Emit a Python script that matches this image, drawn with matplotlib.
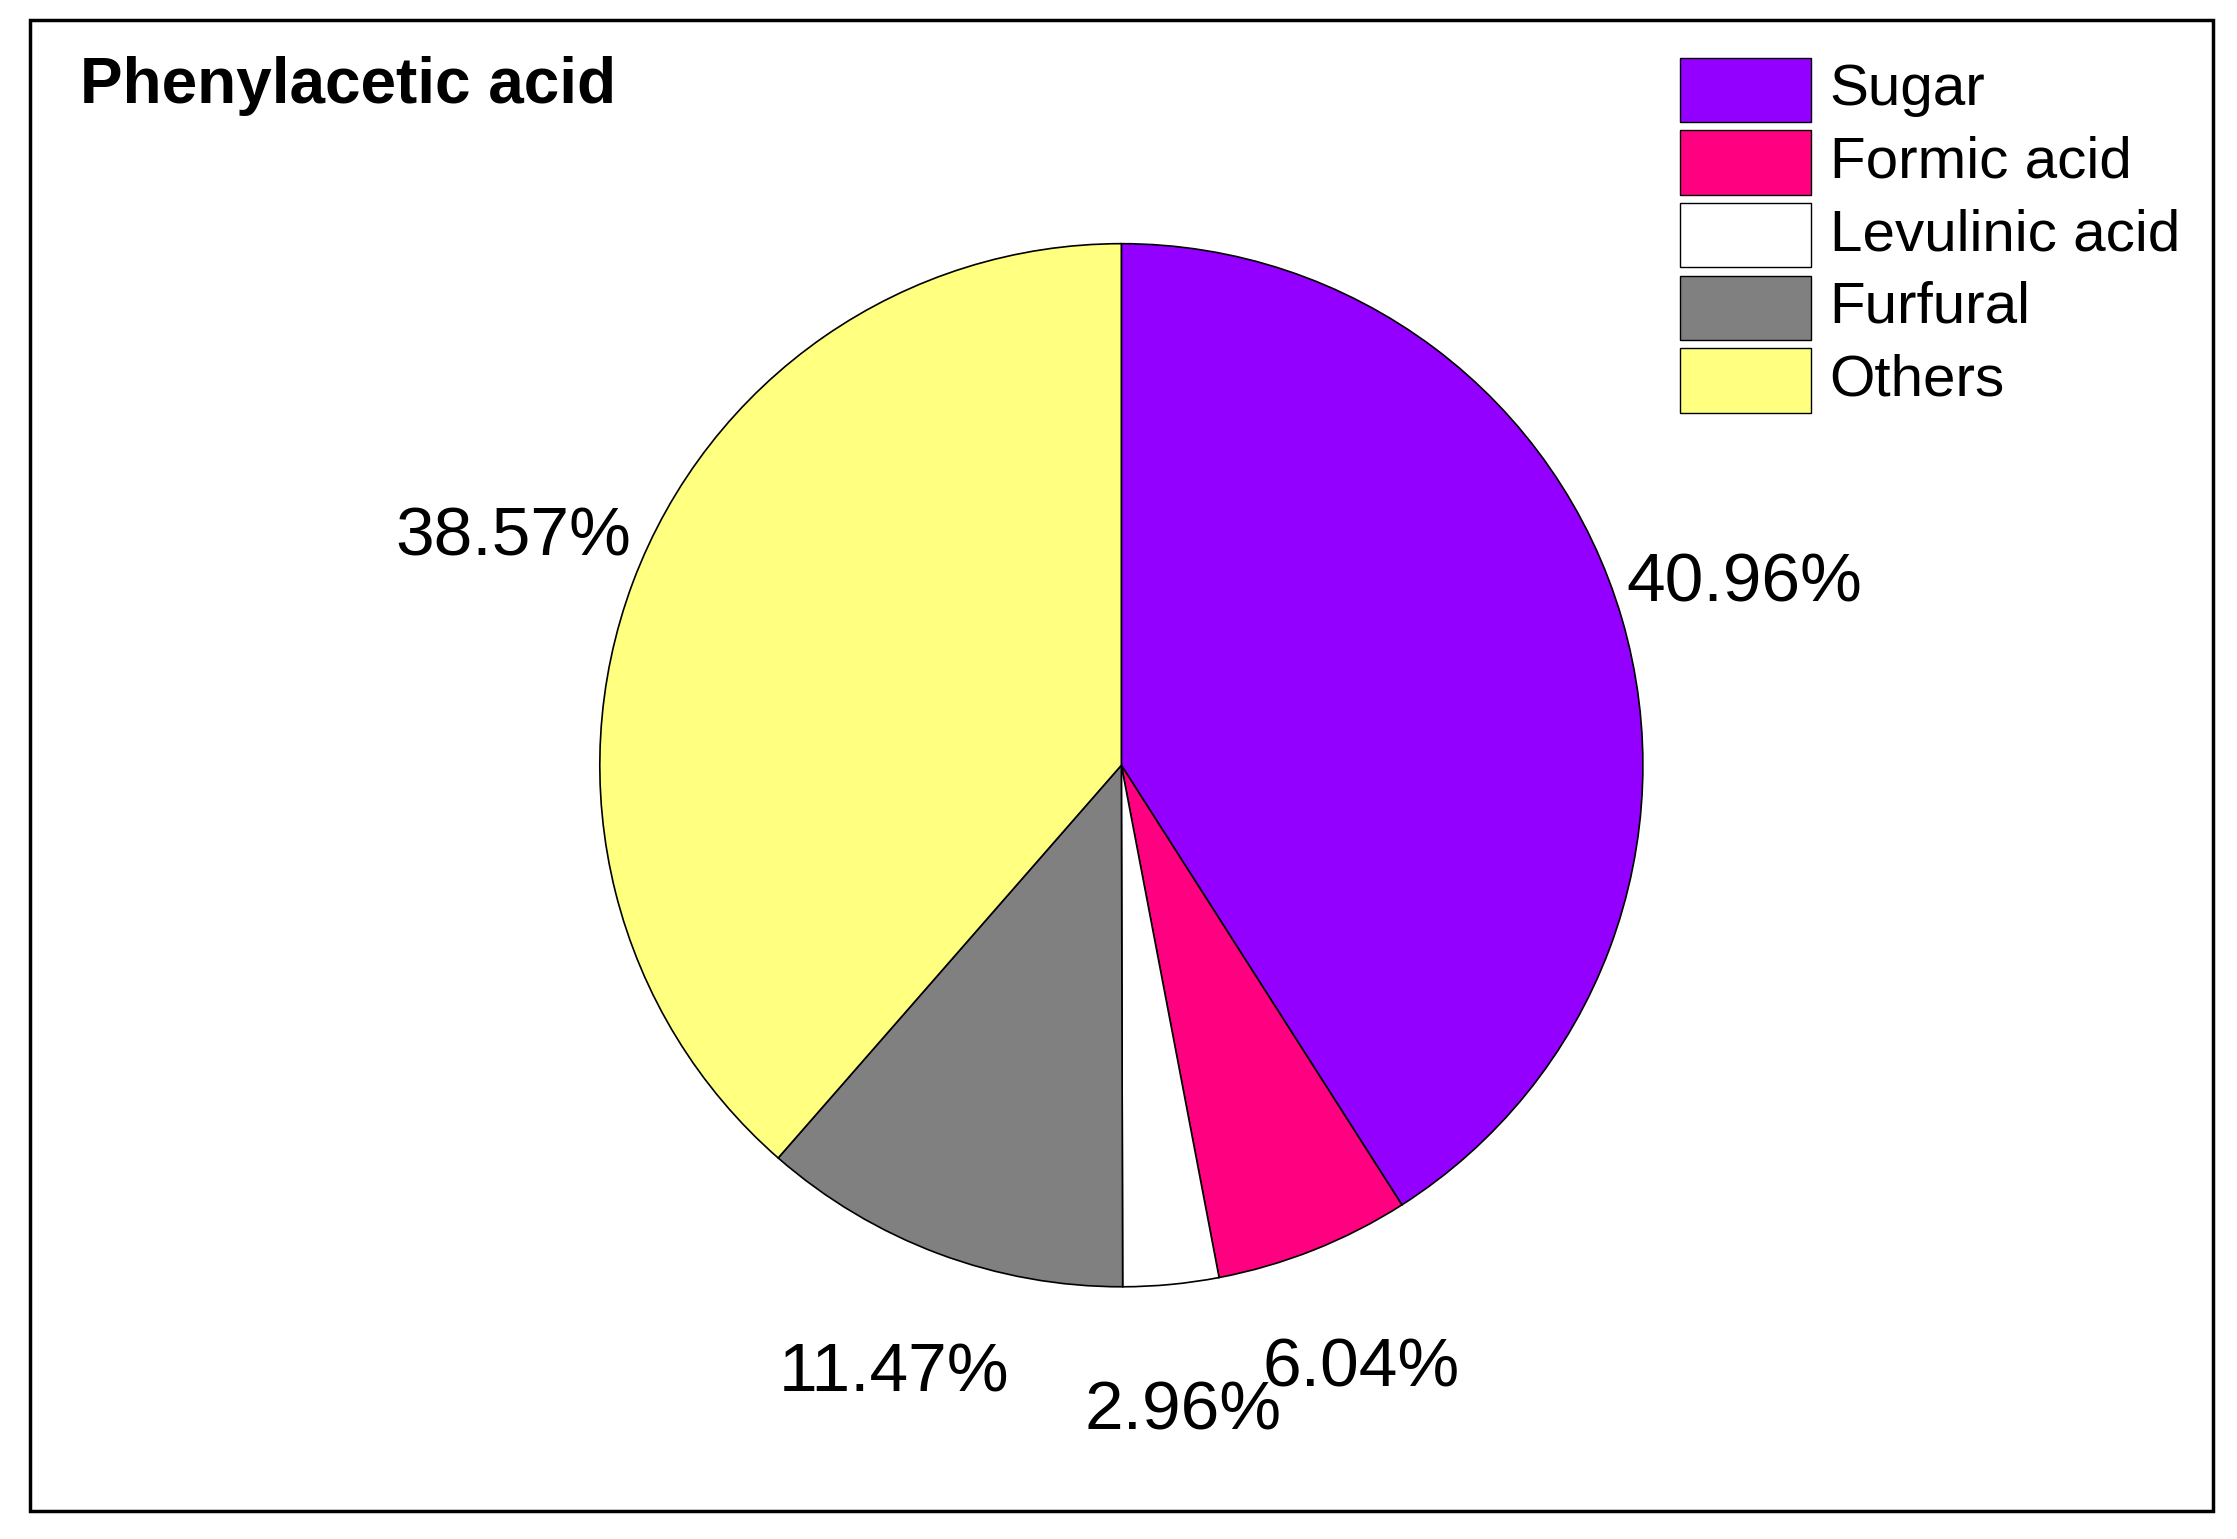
import matplotlib
matplotlib.use("Agg")
import matplotlib.pyplot as plt
from matplotlib.patches import Rectangle

plt.rcParams['font.family'] = ['Liberation Sans', 'DejaVu Sans']

categories = ["Sugar", "Formic acid", "Levulinic acid", "Furfural", "Others"]
values = [40.96, 6.04, 2.96, 11.47, 38.57]
colors = ["#9400FF", "#FF0080", "#FFFFFF", "#808080", "#FFFF80"]
title = "Phenylacetic acid"

W, H = 1568, 1080
fig = plt.figure(figsize=(22.37, 15.39), dpi=100)
ax = fig.add_axes([0, 0, 1, 1])
ax.set_xlim(0, W)
ax.set_ylim(0, H)
ax.set_aspect('equal')
ax.axis('off')

# frame
ax.add_patch(Rectangle((20, H - 1060), 1532, 1046, fill=False, edgecolor='black', lw=2.5))

wedges, texts, autotexts = ax.pie(values, colors=colors, startangle=90, counterclock=False,
       center=(786, H - 537), radius=366, autopct='%.2f%%', pctdistance=1.245,
       wedgeprops=dict(edgecolor='black', linewidth=1.2),
       textprops=dict(fontsize=50), frame=True)
ax.set_xlim(0, W)
ax.set_ylim(0, H)
ax.axis('off')

ax.text(55, H - 60, title, fontsize=46, fontweight='bold', va='center', ha='left')

for i, (c, col) in enumerate(zip(categories, colors)):
    yc = H - (63 + 51 * i)
    ax.add_patch(Rectangle((1178, yc - 22.5), 92, 45, facecolor=col, edgecolor='black', lw=1))
    ax.text(1283, yc, c, fontsize=42, va='center', ha='left')

fig.savefig("out.png", dpi=100)
